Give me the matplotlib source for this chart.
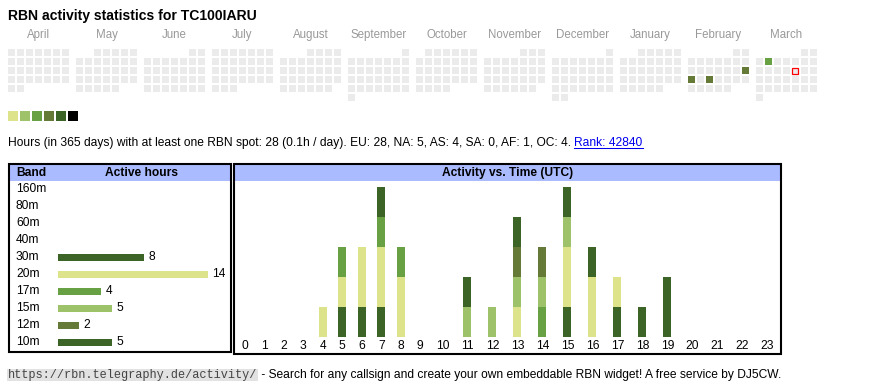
import datetime as dt
import matplotlib
matplotlib.use('Agg')
import matplotlib.pyplot as plt
import matplotlib.transforms as mtransforms
from matplotlib.patches import Rectangle
import numpy as np

plt.rcParams['font.family'] = ['Liberation Sans', 'DejaVu Sans']

# ---------------- data ----------------
title = 'RBN activity statistics for TC100IARU'
months = ['April', 'May', 'June', 'July', 'August', 'September', 'October',
          'November', 'December', 'January', 'February', 'March']
first_day = '2024-04-01'
active_days = ['2025-02-16', '2025-02-17', '2025-02-19', '2025-03-04']
active_levels = [3, 3, 3, 2]
today = '2025-03-14'
level_colors = ['#dce38b', '#9dc26a', '#68a044', '#667a38', '#3b6426', '#000000']
empty_color = '#ebebeb'

summary_text = ('Hours (in 365 days) with at least one RBN spot: 28 (0.1h / day). '
                'EU: 28, NA: 5, AS: 4, SA: 0, AF: 1, OC: 4. ')
rank_text = 'Rank: 42840'

bands = ['160m', '80m', '60m', '40m', '30m', '20m', '17m', '15m', '12m', '10m']
band_hours = [0, 0, 0, 0, 8, 14, 4, 5, 2, 5]
band_colors = ['#3b6426', '#3b6426', '#3b6426', '#3b6426', '#3b6426',
               '#dce38b', '#68a044', '#9dc26a', '#667a38', '#3b6426']

hour_labels = [str(h) for h in range(24)]
#             0  1  2  3  4  5  6  7  8  9 10 11 12 13 14 15 16 17 18 19 20 21 22 23
hourly = {
    '30m':   [0, 0, 0, 0, 0, 1, 1, 1, 0, 0, 0, 0, 0, 0, 0, 1, 0, 1, 1, 2, 0, 0, 0, 0],
    '20m':   [0, 0, 0, 0, 1, 1, 2, 2, 2, 0, 0, 0, 0, 1, 0, 2, 2, 1, 0, 0, 0, 0, 0, 0],
    '17m':   [0, 0, 0, 0, 0, 1, 0, 1, 1, 0, 0, 0, 0, 0, 1, 0, 0, 0, 0, 0, 0, 0, 0, 0],
    '15m':   [0, 0, 0, 0, 0, 0, 0, 0, 0, 0, 0, 1, 1, 1, 1, 1, 0, 0, 0, 0, 0, 0, 0, 0],
    '12m':   [0, 0, 0, 0, 0, 0, 0, 0, 0, 0, 0, 0, 0, 1, 1, 0, 0, 0, 0, 0, 0, 0, 0, 0],
    '10m':   [0, 0, 0, 0, 0, 0, 0, 1, 0, 0, 0, 1, 0, 1, 0, 1, 1, 0, 0, 0, 0, 0, 0, 0],
}

footer_url = 'https://rbn.telegraphy.de/activity/'
footer_text = ' - Search for any callsign and create your own embeddable RBN widget! A free service by DJ5CW.'

# ---------------- layout ----------------
W, H = 870, 390
FS = 8.66         # body font size (pt)
fig = plt.figure(figsize=(W / 100, H / 100), dpi=100)
fig.patch.set_facecolor('white')


def frect(x0, y0, x1, y1):
    return [x0 / W, 1 - y1 / H, (x1 - x0) / W, (y1 - y0) / H]


bg = fig.add_axes([0, 0, 1, 1])
bg.set_xlim(0, W)
bg.set_ylim(H, 0)
bg.axis('off')

bg.text(8, 16, title, fontsize=10.1, fontweight='bold', va='center', ha='left')

# calendar
start = dt.date.fromisoformat(first_day)
act = {dt.date.fromisoformat(d): l for d, l in zip(active_days, active_levels)}
today_d = dt.date.fromisoformat(today)
BLOCK, PITCH, CELL, ROW0 = 68, 9, 7, 49.3
for m, name in enumerate(months):
    yr = start.year + (start.month - 1 + m) // 12
    mo = (start.month - 1 + m) % 12 + 1
    d0 = dt.date(yr, mo, 1)
    x0 = 8 + BLOCK * m
    bg.text(x0 + 30.5, 35, name, fontsize=8.3, color='#999999', ha='center', va='center')
    offs = d0.weekday()
    d = d0
    while d.month == mo:
        idx = d.day - 1 + offs
        col, row = idx % 7, idx // 7
        cx, cy = x0 + col * PITCH, ROW0 + row * PITCH
        fc = level_colors[act[d]] if d in act else empty_color
        if d == today_d:
            bg.add_patch(Rectangle((cx + 0.5, cy + 0.5), CELL - 1, CELL - 1,
                                   facecolor=empty_color, edgecolor='#ff0000', lw=0.9))
        else:
            bg.add_patch(Rectangle((cx, cy), CELL, CELL, facecolor=fc, edgecolor='none'))
        d += dt.timedelta(days=1)

# level legend
for i, c in enumerate(level_colors):
    bg.add_patch(Rectangle((8 + 12 * i, 111.3), 10, 10, facecolor=c, edgecolor='none'))

# summary line
t1 = bg.text(8, 142.7, summary_text, fontsize=FS, va='center', ha='left')
fig.canvas.draw()
r = fig.canvas.get_renderer()
bb = t1.get_window_extent(r)
xr = bb.x1
t2 = bg.text(xr, 142.7, rank_text, fontsize=FS, va='center', ha='left', color='#0000ee')
bb2 = t2.get_window_extent(r)
bg.plot([xr, bb2.x1], [148.3, 148.3], color='#0000ee', lw=0.75)

# table boxes and headers
bg.add_patch(Rectangle((10, 164.7), 220, 16, facecolor='#aabbff', edgecolor='none'))
bg.add_patch(Rectangle((235, 164.7), 545, 16, facecolor='#aabbff', edgecolor='none'))
bg.add_patch(Rectangle((9, 163.7), 222, 188, facecolor='none', edgecolor='black', lw=1.5))
bg.add_patch(Rectangle((234, 163.7), 547, 190.6, facecolor='none', edgecolor='black', lw=1.5))
bg.text(16, 172.7, 'Band', fontsize=FS, fontweight='bold', va='center', ha='left')
bg.text(141.7, 172.7, 'Active hours', fontsize=FS, fontweight='bold', va='center', ha='center')
bg.text(507.3, 172.7, 'Activity vs. Time (UTC)', fontsize=FS, fontweight='bold',
        va='center', ha='center')

# band chart
axb = fig.add_axes(frect(58, 180.8, 208, 350.8))
axb.set_xlim(0, max(band_hours))
axb.set_ylim(len(bands) - 0.5, -0.5)
axb.axis('off')
ypos = np.arange(len(bands))
axb.barh(ypos, band_hours, height=0.41, color=band_colors)
trb = mtransforms.blended_transform_factory(bg.transData, axb.transData)
for i, (b, v) in enumerate(zip(bands, band_hours)):
    bg.text(16, i, b, fontsize=FS, va='center', ha='left', transform=trb)
    if v > 0:
        axb.annotate(str(v), xy=(v, i), xytext=(3.2, 0), textcoords='offset points',
                     fontsize=FS, va='center', ha='left')

# activity chart
col_w = np.array([19.5 if len(h) == 1 else 25.0 for h in hour_labels])
edges = np.concatenate([[0], np.cumsum(col_w)])
centers = (edges[:-1] + edges[1:]) / 2
axa = fig.add_axes(frect(235, 186.7, 235 + edges[-1], 336.7))
axa.set_xlim(0, edges[-1])
axa.set_ylim(0, 5)
axa.axis('off')
bottom = np.zeros(24)
for b, c in zip(bands, band_colors):
    if b not in hourly:
        continue
    vals = np.array(hourly[b], dtype=float)
    axa.bar(centers, vals, width=8, bottom=bottom, color=c, linewidth=0)
    bottom += vals
tra = mtransforms.blended_transform_factory(axa.transData, bg.transData)
for cx, lbl in zip(centers, hour_labels):
    bg.text(cx, 345.7, lbl, fontsize=FS, ha='center', va='center', transform=tra)

# footer
tf = bg.text(8, 374.8, footer_url, fontsize=8.6, family='Liberation Mono', color='#444444',
             va='center', ha='left')
fig.canvas.draw()
bbf = tf.get_window_extent(r)
bg.add_patch(Rectangle((7.3, 369.3), bbf.x1 - 7.3 + 0.5, 12, facecolor='#e2e2e2',
                       edgecolor='none', zorder=0))
bg.text(bbf.x1 + 0.5, 374.8, footer_text, fontsize=FS, va='center', ha='left')

fig.savefig('out.png', dpi=100, facecolor='white')
